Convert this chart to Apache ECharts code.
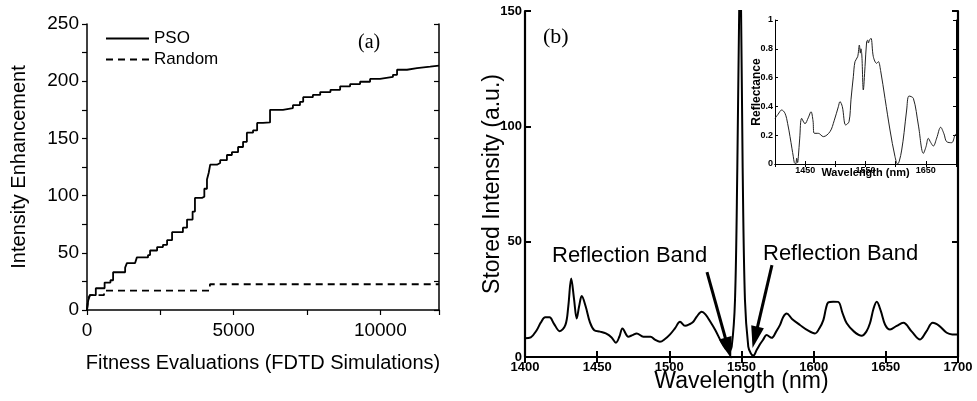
<!DOCTYPE html>
<html>
<head>
<meta charset="utf-8">
<script src="https://cdn.jsdelivr.net/npm/echarts@6/dist/echarts.min.js"></script>
<style>
html,body{margin:0;padding:0;background:#fff;}
#c{width:977px;height:401px;}
</style>
</head>
<body>
<div id="c"></div>
<script>
// ---------- Panel (a) data ----------
const psoX = [0, 40, 100, 300, 600, 800, 890, 1300, 1360, 1640, 1700, 2080, 2150, 2390, 2590, 2730, 2900, 3270, 3410, 3600, 3680, 3920, 4000, 4090, 4150, 4200, 4430, 4540, 4770, 4940, 5150, 5320, 5450, 5660, 5800, 6000, 6240, 6680, 7020, 7260, 7370, 7700, 7950, 8300, 8630, 8970, 9310, 9650, 9990, 10430, 10570, 10910, 11250, 11700, 12000];
const psoY = [0, 8, 13, 19, 24, 26, 33, 37, 41, 42, 46, 48, 52, 55, 57, 61, 68, 72, 79, 86, 98, 99, 106, 114, 120, 127, 128.5, 131, 135.5, 138, 142.5, 147, 155, 157, 163.5, 164, 175, 176.5, 179, 182, 186, 188, 190.5, 192.5, 195.5, 197.5, 199.5, 202, 203.7, 205.6, 210, 211.5, 212.8, 213.7, 214];
const randX = [0, 40, 100, 580, 4190, 12000];
const randY = [0, 10, 13, 17, 22.5, 22.5];
const aXTicks = [0, 5000, 10000];
const aYTicks = [0, 50, 100, 150, 200, 250];

// ---------- Panel (b) main data ----------
const wl = [1400, 1404, 1408, 1411, 1414, 1417, 1420, 1424, 1428, 1430, 1432, 1434, 1435.8, 1437.5, 1439.3, 1442, 1445, 1448, 1452, 1456, 1460, 1463, 1465.5, 1467.5, 1471.6, 1474.5, 1477.4, 1482, 1487, 1490, 1493.5, 1497, 1500.5, 1504, 1507.4, 1510.9, 1514, 1516.6, 1519, 1522.4, 1525, 1528.2, 1532, 1536, 1539, 1541, 1543.2, 1545.5, 1547.1, 1548.4, 1549, 1549.7, 1550.8, 1552.4, 1554.7, 1556.5, 1558.2, 1560.5, 1562.8, 1565, 1567.4, 1570.9, 1574, 1576.7, 1579, 1581.3, 1585, 1590.5, 1596, 1600.9, 1604, 1606.7, 1608.5, 1610.1, 1613.5, 1617, 1620, 1622.9, 1628, 1633.3, 1636.5, 1639, 1641.5, 1643.7, 1646.5, 1649.5, 1652.9, 1657.5, 1662.1, 1668, 1673.7, 1678, 1682.5, 1687, 1692.2, 1696, 1700];
const stored = [8.1, 8.5, 11.5, 15, 17.2, 17.2, 14.5, 11.2, 13.9, 22, 34, 25, 16.7, 22, 26.4, 22, 15, 11.6, 11, 10.2, 8.5, 6.2, 9, 12.4, 8.8, 9.5, 10.2, 8.8, 8.8, 7.5, 6.6, 7.8, 9.8, 12.5, 15.3, 13.5, 14.2, 15.3, 17.5, 19.6, 18.5, 15.5, 11.5, 6.5, 3.5, 2.3, 4.5, 24.7, 82, 150, 160, 150, 82, 24.7, 4.5, 1.5, 0.6, 3, 5.5, 7.5, 9.5, 8.3, 11, 13.9, 17.5, 18.9, 16.5, 13.9, 11.5, 10.2, 12.5, 16, 21, 23.7, 24, 23.9, 19, 14.6, 11, 9.2, 11, 14.6, 21, 23.9, 20, 14, 11.9, 13.5, 14.8, 11, 7.6, 11, 14.8, 13.5, 10.5, 9.8, 9.8];

// ---------- Inset data ----------
const iwl = [1400, 1405, 1411, 1416.6, 1421, 1424.9, 1428, 1430.4, 1432, 1434.3, 1436, 1437.5, 1438.7, 1441, 1444.2, 1449.7, 1455, 1459.7, 1463, 1465.2, 1471.8, 1480.1, 1491.2, 1498, 1505, 1507.7, 1511.6, 1517.1, 1522.7, 1526, 1529.8, 1532.6, 1537, 1539.8, 1541.5, 1542.5, 1544, 1546.4, 1549.2, 1551.9, 1553.5, 1554.7, 1556.5, 1559.1, 1563, 1568.5, 1571.3, 1575, 1582.3, 1590.6, 1598.9, 1603.3, 1606, 1610, 1614, 1618.2, 1622.1, 1629.3, 1637.6, 1645.9, 1650.3, 1654.1, 1658, 1662.4, 1668, 1674.6, 1680, 1684.5, 1692.8, 1698.3, 1700];
const refl = [0.317, 0.345, 0.375, 0.352, 0.28, 0.19, 0.11, 0.05, 0.01, 0, 0.04, 0.01, 0.05, 0.18, 0.317, 0.28, 0.32, 0.363, 0.3, 0.213, 0.213, 0.19, 0.225, 0.3, 0.398, 0.433, 0.398, 0.271, 0.294, 0.45, 0.606, 0.711, 0.745, 0.826, 0.77, 0.8, 0.75, 0.514, 0.676, 0.85, 0.86, 0.84, 0.86, 0.873, 0.745, 0.699, 0.711, 0.65, 0.456, 0.236, 0.051, 0, 0.02, 0.097, 0.22, 0.375, 0.472, 0.456, 0.271, 0.074, 0.12, 0.178, 0.15, 0.125, 0.18, 0.255, 0.21, 0.155, 0.148, 0.2, 0.21];
const insetXTicks = [1450, 1550, 1650];

// arrows (data coords)
const arrowL = [[1526.1, 36.8], [1540.8, 3.8]];
const arrowR = [[1571.1, 39.8], [1559.4, 8.5]];

const zip = (a, b) => a.map((v, i) => [v, b[i]]);
const SANS = "'Liberation Sans', Arial, sans-serif";
const SERIF = "'Liberation Serif', 'Times New Roman', serif";
const black = '#000';

const chart = echarts.init(document.getElementById('c'), null, {renderer: 'canvas'});
chart.setOption({
  animation: false,
  backgroundColor: '#fff',
  legend: {
    orient: 'vertical', left: 105, top: 30, padding: 0, itemWidth: 43, itemHeight: 14, itemGap: 4,
    itemStyle: {color: 'rgba(0,0,0,0)', borderColor: 'rgba(0,0,0,0)', borderWidth: 0},
    textStyle: {fontFamily: SANS, fontSize: 17, color: black},
    data: ['PSO', 'Random']
  },
  grid: [
    {left: 87, top: 24, width: 352, height: 286},
    {left: 525, top: 11, width: 433, height: 346},
    {left: 775, top: 20, width: 181, height: 144, show: true, backgroundColor: '#fff', borderWidth: 0, z: 5}
  ],
  xAxis: [
    {gridIndex: 0, type: 'value', min: 0, max: 12000, interval: 2500, position: 'bottom',
     axisLine: {lineStyle: {color: black, width: 1.5}},
     axisTick: {inside: false, length: 5, lineStyle: {color: black, width: 1.2}},
     axisLabel: {fontFamily: SANS, fontSize: 19, color: black, margin: 11,
       formatter: v => aXTicks.includes(v) ? String(v) : ''},
     splitLine: {show: false},
     name: 'Fitness Evaluations (FDTD Simulations)', nameLocation: 'middle', nameGap: 43, nameMoveOverlap: false,
     nameTextStyle: {fontFamily: SANS, fontSize: 20, color: black}},
    {gridIndex: 1, type: 'value', min: 1400, max: 1700, interval: 50, position: 'bottom',
     axisLine: {lineStyle: {color: black, width: 2.2}},
     axisTick: {inside: true, length: 6, lineStyle: {color: black, width: 2}},
     axisLabel: {fontFamily: SANS, fontSize: 13, fontWeight: 'bold', color: black, margin: 4,
       formatter: v => String(v)},
     splitLine: {show: false},
     name: 'Wavelength (nm)', nameLocation: 'middle', nameGap: 13, nameMoveOverlap: false,
     nameTextStyle: {fontFamily: SANS, fontSize: 23, color: black}},
    {gridIndex: 1, type: 'value', min: 1400, max: 1700, interval: 50, position: 'top',
     axisLine: {lineStyle: {color: black, width: 2.2}},
     axisTick: {inside: true, length: 6, lineStyle: {color: black, width: 2}},
     axisLabel: {show: false}, splitLine: {show: false}},
    {gridIndex: 2, type: 'value', min: 1400, max: 1700, interval: 50, position: 'bottom',
     axisLine: {lineStyle: {color: black, width: 1}},
     axisTick: {inside: true, length: 3, lineStyle: {color: black, width: 1}},
     axisLabel: {fontFamily: SANS, fontSize: 9, fontWeight: 'bold', color: black, margin: 2,
       formatter: v => insetXTicks.includes(v) ? String(v) : ''},
     splitLine: {show: false}, z: 6,
     name: 'Wavelength (nm)', nameLocation: 'middle', nameGap: 3, nameMoveOverlap: false,
     nameTextStyle: {fontFamily: SANS, fontSize: 11, fontWeight: 'bold', color: black}},
    {gridIndex: 2, type: 'value', min: 1400, max: 1700, interval: 50, position: 'top',
     axisLine: {lineStyle: {color: black, width: 1}},
     axisTick: {inside: true, length: 3, lineStyle: {color: black, width: 1}},
     axisLabel: {show: false}, splitLine: {show: false}, z: 6}
  ],
  yAxis: [
    {gridIndex: 0, type: 'value', min: 0, max: 250, interval: 25, position: 'left',
     axisLine: {show: true, lineStyle: {color: black, width: 1.5}},
     axisTick: {show: true, inside: false, length: 5, lineStyle: {color: black, width: 1.2}},
     axisLabel: {fontFamily: SANS, fontSize: 19, color: black, margin: 8,
       formatter: v => aYTicks.includes(v) ? String(v) : ''},
     splitLine: {show: false},
     name: 'Intensity Enhancement', nameLocation: 'middle', nameGap: 58, nameMoveOverlap: false,
     nameTextStyle: {fontFamily: SANS, fontSize: 20, color: black}},
    {gridIndex: 0, type: 'value', min: 0, max: 250, interval: 25, position: 'right',
     axisLine: {show: true, lineStyle: {color: black, width: 1.5}},
     axisTick: {show: true, inside: true, length: 5, lineStyle: {color: black, width: 1.2}},
     axisLabel: {show: false}, splitLine: {show: false}},
    {gridIndex: 1, type: 'value', min: 0, max: 150, interval: 50, position: 'left',
     axisLine: {show: true, lineStyle: {color: black, width: 2.2}},
     axisTick: {show: true, inside: true, length: 6, lineStyle: {color: black, width: 2}},
     axisLabel: {fontFamily: SANS, fontSize: 13, fontWeight: 'bold', color: black, margin: 3},
     splitLine: {show: false},
     name: 'Stored Intensity (a.u.)', nameLocation: 'middle', nameGap: 21, nameMoveOverlap: false,
     nameTextStyle: {fontFamily: SANS, fontSize: 23, color: black}},
    {gridIndex: 1, type: 'value', min: 0, max: 150, interval: 50, position: 'right',
     axisLine: {show: true, lineStyle: {color: black, width: 2.2}},
     axisTick: {show: true, inside: true, length: 6, lineStyle: {color: black, width: 2}},
     axisLabel: {show: false}, splitLine: {show: false}},
    {gridIndex: 2, type: 'value', min: 0, max: 1, interval: 0.2, position: 'left',
     axisLine: {show: true, lineStyle: {color: black, width: 1}},
     axisTick: {show: true, inside: true, length: 3, lineStyle: {color: black, width: 1}},
     axisLabel: {fontFamily: SANS, fontSize: 9, fontWeight: 'bold', color: black, margin: 2,
       formatter: v => String(Math.round(v * 10) / 10)},
     splitLine: {show: false}, z: 6,
     name: 'Reflectance', nameLocation: 'middle', nameGap: 12, nameMoveOverlap: false,
     nameTextStyle: {fontFamily: SANS, fontSize: 12, fontWeight: 'bold', color: black}},
    {gridIndex: 2, type: 'value', min: 0, max: 1, interval: 0.2, position: 'right',
     axisLine: {show: true, lineStyle: {color: black, width: 1}},
     axisTick: {show: true, inside: true, length: 3, lineStyle: {color: black, width: 1}},
     axisLabel: {show: false}, splitLine: {show: false}, z: 6}
  ],
  series: [
    {name: 'PSO', type: 'line', xAxisIndex: 0, yAxisIndex: 0, step: 'end', symbol: 'none',
     lineStyle: {color: black, width: 1.8}, itemStyle: {color: black}, data: zip(psoX, psoY)},
    {name: 'Random', type: 'line', xAxisIndex: 0, yAxisIndex: 0, step: 'end', symbol: 'none',
     lineStyle: {color: black, width: 1.8, type: [7, 5]}, itemStyle: {color: black}, data: zip(randX, randY)},
    {name: 'Stored', type: 'line', xAxisIndex: 1, yAxisIndex: 2, symbol: 'none', smooth: 0.35,
     lineStyle: {color: black, width: 2}, data: zip(wl, stored),
     markLine: {
       silent: true, symbol: ['none', 'triangle'], symbolSize: [13, 22],
       lineStyle: {color: black, width: 3, type: 'solid'}, label: {show: false},
       data: [
         [{coord: arrowL[0]}, {coord: arrowL[1]}],
         [{coord: arrowR[0]}, {coord: arrowR[1]}]
       ]
     }},
    {name: 'Reflectance', type: 'line', xAxisIndex: 3, yAxisIndex: 4, symbol: 'none', smooth: 0.35, z: 7,
     lineStyle: {color: '#222', width: 1}, data: zip(iwl, refl)}
  ],
  graphic: [
    {type: 'text', left: 358, top: 33, style: {text: '(a)', font: "20px " + SERIF, fill: black}},
    {type: 'text', left: 543, top: 26, style: {text: '(b)', font: "22px " + SERIF, fill: black}},
    {type: 'text', left: 552, top: 245, style: {text: 'Reflection Band', font: "22px " + SANS, fill: black}},
    {type: 'text', left: 763, top: 243, style: {text: 'Reflection Band', font: "22px " + SANS, fill: black}}
  ]
});
</script>
</body>
</html>
